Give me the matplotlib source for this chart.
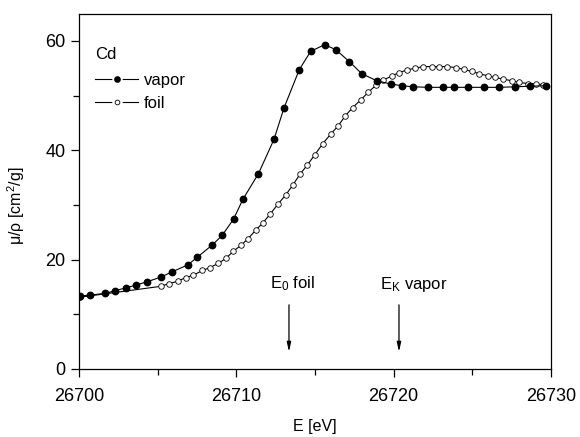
import matplotlib
matplotlib.use("Agg")
import matplotlib.pyplot as plt
from matplotlib.lines import Line2D
from matplotlib.legend_handler import HandlerTuple

plt.rcParams['font.family'] = ['Liberation Sans', 'DejaVu Sans']
plt.rcParams['mathtext.fontset'] = 'custom'
plt.rcParams['mathtext.rm'] = 'Liberation Sans'
plt.rcParams['mathtext.it'] = 'Liberation Sans:italic'

# Cd K-edge absorption, vapor vs. foil
vapor_e = [26700.06, 26700.70, 26701.69, 26702.29, 26702.99, 26703.60, 26704.31,
           26705.22, 26705.89, 26706.91, 26707.52, 26708.49, 26709.10, 26709.83,
           26710.42, 26711.41, 26712.40, 26713.03, 26714.00, 26714.73, 26715.62,
           26716.32, 26717.19, 26717.97, 26718.93, 26719.83, 26720.51, 26721.25,
           26722.21, 26723.16, 26723.84, 26724.75, 26725.75, 26726.72, 26727.71,
           26728.67, 26729.69]
vapor_mu = [13.3, 13.5, 13.8, 14.3, 14.8, 15.3, 15.9,
            16.8, 17.7, 19.0, 20.4, 22.7, 24.4, 27.4,
            31.0, 35.7, 42.0, 47.7, 54.7, 58.1, 59.3,
            58.4, 56.2, 54.0, 52.7, 52.1, 51.8, 51.6,
            51.5, 51.5, 51.5, 51.5, 51.5, 51.5, 51.6,
            51.7, 51.8]

foil_e = [26700.06, 26705.22, 26705.72, 26706.28, 26706.78, 26707.26, 26707.85,
          26708.32, 26708.86, 26709.34, 26709.81, 26710.30, 26710.74, 26711.25,
          26711.69, 26712.15, 26712.67, 26713.14, 26713.59, 26714.05, 26714.52,
          26715.00, 26715.50, 26716.02, 26716.49, 26716.93, 26717.40, 26717.91,
          26718.39, 26718.88, 26719.34, 26719.88, 26720.36, 26720.87, 26721.36,
          26721.89, 26722.42, 26722.90, 26723.42, 26723.95, 26724.44, 26724.96,
          26725.44, 26725.98, 26726.44, 26726.98, 26727.51, 26727.99, 26728.52,
          26729.04, 26729.52]
foil_mu = [13.1, 15.1, 15.6, 16.0, 16.7, 17.1, 18.0,
           18.5, 19.3, 20.2, 21.5, 22.6, 23.8, 25.4,
           26.7, 28.3, 30.2, 31.8, 33.6, 35.6, 37.3,
           39.2, 41.2, 43.0, 44.5, 46.3, 47.8, 49.2,
           50.6, 51.9, 52.8, 53.6, 54.2, 54.7, 55.0,
           55.3, 55.3, 55.3, 55.3, 55.1, 54.8, 54.4,
           54.0, 53.6, 53.3, 53.0, 52.7, 52.4, 52.2,
           52.1, 52.0]

edges = [26713.35, 26720.34]
edge_labels = ['E$_0$ foil', 'E$_\\mathrm{K}$ vapor']

fig = plt.figure(figsize=(5.8, 4.37), dpi=100)
ax = fig.add_axes([0.136, 0.156, 0.814, 0.813])

ax.plot(foil_e, foil_mu, '-o', color='black', lw=0.8, ms=4.0,
        mfc='white', mec='black', mew=0.6, zorder=2)
ax.plot(vapor_e, vapor_mu, '-o', color='black', lw=0.8, ms=4.6,
        mfc='black', mec='black', zorder=3)

for x, lab in zip(edges, edge_labels):
    ax.annotate('', xy=(x, 3.1), xytext=(x, 11.7),
                arrowprops=dict(arrowstyle='-|>,head_length=0.55,head_width=0.12',
                                color='black', lw=0.9, shrinkA=0, shrinkB=0))
    ax.text(x - 1.2, 15.5, lab, fontsize=12, ha='left', va='center')

ax.set_xlim(26700, 26730)
ax.set_ylim(0, 65)
ax.set_xticks([26700, 26710, 26720, 26730])
ax.set_xticks([26705, 26715, 26725], minor=True)
ax.set_yticks([0, 20, 40, 60])
ax.set_yticks([10, 30, 50], minor=True)
ax.tick_params(which='major', direction='out', length=6, width=0.9, labelsize=13,
               top=False, right=False)
ax.tick_params(which='minor', direction='out', length=4, width=0.9,
               top=False, right=False)
ax.tick_params(axis='x', pad=8)
for s in ax.spines.values():
    s.set_linewidth(0.9)

ax.set_xlabel('E [eV]', fontsize=11.5, labelpad=10)
ax.set_ylabel('μ/ρ [cm$^2$/g]', fontsize=11.5)
ax.yaxis.set_label_coords(-0.11, 0.46)

# legend handles: line with a small gap around the marker
gap_v = Line2D([], [], color='black', lw=0.8, marker='o', ms=6.5, mfc='white', mec='white')
dot_v = Line2D([], [], ls='none', marker='o', ms=3.8, mfc='black', mec='black')
gap_f = Line2D([], [], color='black', lw=0.8, marker='o', ms=6.5, mfc='white', mec='white')
dot_f = Line2D([], [], ls='none', marker='o', ms=3.4, mfc='white', mec='black', mew=0.6)
leg = ax.legend([(gap_v, dot_v), (gap_f, dot_f)], ['vapor', 'foil'], title='Cd',
                loc='upper left', bbox_to_anchor=(0.02, 0.925), frameon=False,
                fontsize=12, title_fontsize=12, handlelength=2.6, handletextpad=0.35,
                labelspacing=0.5, borderaxespad=0,
                handler_map={tuple: HandlerTuple(ndivide=1)})
leg._legend_box.align = 'left'
leg._legend_box.sep = 8

fig.savefig('out.png', dpi=100)
